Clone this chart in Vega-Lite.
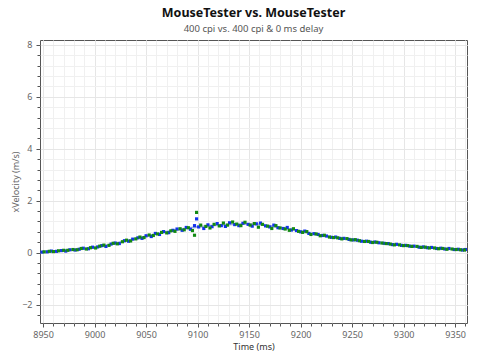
{
  "$schema": "https://vega.github.io/schema/vega-lite/v6.json",
  "width": 427,
  "height": 283,
  "autosize": {"type": "none"},
  "padding": {"left": 40, "top": 40, "right": 13, "bottom": 37},
  "background": "white",
  "title": {
    "text": "MouseTester vs. MouseTester",
    "subtitle": "400 cpi vs. 400 cpi & 0 ms delay",
    "fontSize": 12.5,
    "fontWeight": "bold",
    "color": "#111",
    "subtitleFontSize": 9.5,
    "subtitleColor": "#555",
    "subtitlePadding": 4,
    "anchor": "middle",
    "offset": 7
  },
  "config": {
    "font": "Noto Sans",
    "view": {"stroke": "#555", "strokeWidth": 1}
  },
  "datasets": {
    "mean": [
      {"time": 8950, "velocity": 0.03}, {"time": 8960, "velocity": 0.05}, {"time": 8970, "velocity": 0.08},
      {"time": 8980, "velocity": 0.11}, {"time": 8990, "velocity": 0.15}, {"time": 9000, "velocity": 0.19},
      {"time": 9010, "velocity": 0.27}, {"time": 9020, "velocity": 0.36}, {"time": 9030, "velocity": 0.45},
      {"time": 9040, "velocity": 0.54}, {"time": 9050, "velocity": 0.63}, {"time": 9060, "velocity": 0.72},
      {"time": 9070, "velocity": 0.81}, {"time": 9080, "velocity": 0.88}, {"time": 9090, "velocity": 0.94},
      {"time": 9100, "velocity": 0.99}, {"time": 9110, "velocity": 1.03}, {"time": 9120, "velocity": 1.06},
      {"time": 9130, "velocity": 1.08}, {"time": 9140, "velocity": 1.1}, {"time": 9150, "velocity": 1.1},
      {"time": 9160, "velocity": 1.08}, {"time": 9170, "velocity": 1.03}, {"time": 9180, "velocity": 0.97},
      {"time": 9190, "velocity": 0.9}, {"time": 9200, "velocity": 0.82}, {"time": 9210, "velocity": 0.75},
      {"time": 9220, "velocity": 0.67}, {"time": 9230, "velocity": 0.6}, {"time": 9240, "velocity": 0.55},
      {"time": 9250, "velocity": 0.5}, {"time": 9260, "velocity": 0.45}, {"time": 9270, "velocity": 0.41},
      {"time": 9280, "velocity": 0.37}, {"time": 9290, "velocity": 0.32}, {"time": 9300, "velocity": 0.28},
      {"time": 9310, "velocity": 0.24}, {"time": 9320, "velocity": 0.21}, {"time": 9330, "velocity": 0.18},
      {"time": 9340, "velocity": 0.15}, {"time": 9350, "velocity": 0.13}, {"time": 9360, "velocity": 0.11}
    ],
    "points": [
      {"time": 8949, "velocity": 0.02, "series": "A"}, {"time": 8954, "velocity": 0.03, "series": "A"},
      {"time": 8958, "velocity": 0.06, "series": "A"}, {"time": 8963, "velocity": 0.05, "series": "A"},
      {"time": 8968, "velocity": 0.08, "series": "A"}, {"time": 8972, "velocity": 0.06, "series": "A"},
      {"time": 8976, "velocity": 0.11, "series": "A"}, {"time": 8981, "velocity": 0.1, "series": "A"},
      {"time": 8985, "velocity": 0.13, "series": "A"}, {"time": 8989, "velocity": 0.17, "series": "A"},
      {"time": 8994, "velocity": 0.15, "series": "A"}, {"time": 8998, "velocity": 0.21, "series": "A"},
      {"time": 9003, "velocity": 0.22, "series": "A"}, {"time": 9007, "velocity": 0.27, "series": "A"},
      {"time": 9011, "velocity": 0.24, "series": "A"}, {"time": 9016, "velocity": 0.33, "series": "A"},
      {"time": 9020, "velocity": 0.37, "series": "A"}, {"time": 9024, "velocity": 0.35, "series": "A"},
      {"time": 9029, "velocity": 0.46, "series": "A"}, {"time": 9033, "velocity": 0.44, "series": "A"},
      {"time": 9037, "velocity": 0.52, "series": "A"}, {"time": 9042, "velocity": 0.57, "series": "A"},
      {"time": 9046, "velocity": 0.55, "series": "A"}, {"time": 9050, "velocity": 0.65, "series": "A"},
      {"time": 9055, "velocity": 0.62, "series": "A"}, {"time": 9059, "velocity": 0.74, "series": "A"},
      {"time": 9063, "velocity": 0.7, "series": "A"}, {"time": 9067, "velocity": 0.81, "series": "A"},
      {"time": 9072, "velocity": 0.77, "series": "A"}, {"time": 9076, "velocity": 0.86, "series": "A"},
      {"time": 9080, "velocity": 0.91, "series": "A"}, {"time": 9085, "velocity": 0.86, "series": "A"},
      {"time": 9089, "velocity": 0.97, "series": "A"}, {"time": 9093, "velocity": 0.9, "series": "A"},
      {"time": 9097, "velocity": 1.04, "series": "A"}, {"time": 9099, "velocity": 1.3, "series": "A"},
      {"time": 9101, "velocity": 0.99, "series": "A"}, {"time": 9106, "velocity": 0.93, "series": "A"},
      {"time": 9110, "velocity": 1.07, "series": "A"}, {"time": 9114, "velocity": 1.0, "series": "A"},
      {"time": 9119, "velocity": 1.12, "series": "A"}, {"time": 9123, "velocity": 1.04, "series": "A"},
      {"time": 9127, "velocity": 1.01, "series": "A"}, {"time": 9131, "velocity": 1.15, "series": "A"},
      {"time": 9136, "velocity": 1.08, "series": "A"}, {"time": 9140, "velocity": 1.04, "series": "A"},
      {"time": 9144, "velocity": 1.13, "series": "A"}, {"time": 9149, "velocity": 1.09, "series": "A"},
      {"time": 9153, "velocity": 1.02, "series": "A"}, {"time": 9157, "velocity": 1.11, "series": "A"},
      {"time": 9161, "velocity": 1.14, "series": "A"}, {"time": 9166, "velocity": 1.03, "series": "A"},
      {"time": 9170, "velocity": 0.99, "series": "A"}, {"time": 9174, "velocity": 1.06, "series": "A"},
      {"time": 9178, "velocity": 0.96, "series": "A"}, {"time": 9183, "velocity": 0.93, "series": "A"},
      {"time": 9187, "velocity": 0.97, "series": "A"}, {"time": 9191, "velocity": 0.87, "series": "A"},
      {"time": 9196, "velocity": 0.85, "series": "A"}, {"time": 9200, "velocity": 0.8, "series": "A"},
      {"time": 9204, "velocity": 0.83, "series": "A"}, {"time": 9208, "velocity": 0.74, "series": "A"},
      {"time": 9213, "velocity": 0.73, "series": "A"}, {"time": 9217, "velocity": 0.7, "series": "A"},
      {"time": 9221, "velocity": 0.66, "series": "A"}, {"time": 9225, "velocity": 0.64, "series": "A"},
      {"time": 9230, "velocity": 0.59, "series": "A"}, {"time": 9234, "velocity": 0.6, "series": "A"},
      {"time": 9238, "velocity": 0.55, "series": "A"}, {"time": 9242, "velocity": 0.55, "series": "A"},
      {"time": 9247, "velocity": 0.51, "series": "A"}, {"time": 9251, "velocity": 0.49, "series": "A"},
      {"time": 9255, "velocity": 0.48, "series": "A"}, {"time": 9259, "velocity": 0.44, "series": "A"},
      {"time": 9264, "velocity": 0.44, "series": "A"}, {"time": 9268, "velocity": 0.4, "series": "A"},
      {"time": 9272, "velocity": 0.41, "series": "A"}, {"time": 9276, "velocity": 0.38, "series": "A"},
      {"time": 9281, "velocity": 0.36, "series": "A"}, {"time": 9285, "velocity": 0.35, "series": "A"},
      {"time": 9289, "velocity": 0.31, "series": "A"}, {"time": 9293, "velocity": 0.32, "series": "A"},
      {"time": 9298, "velocity": 0.28, "series": "A"}, {"time": 9302, "velocity": 0.28, "series": "A"},
      {"time": 9306, "velocity": 0.25, "series": "A"}, {"time": 9310, "velocity": 0.25, "series": "A"},
      {"time": 9315, "velocity": 0.21, "series": "A"}, {"time": 9319, "velocity": 0.22, "series": "A"},
      {"time": 9323, "velocity": 0.19, "series": "A"}, {"time": 9327, "velocity": 0.2, "series": "A"},
      {"time": 9332, "velocity": 0.16, "series": "A"}, {"time": 9336, "velocity": 0.17, "series": "A"},
      {"time": 9340, "velocity": 0.14, "series": "A"}, {"time": 9344, "velocity": 0.16, "series": "A"},
      {"time": 9349, "velocity": 0.12, "series": "A"}, {"time": 9353, "velocity": 0.13, "series": "A"},
      {"time": 9357, "velocity": 0.1, "series": "A"}, {"time": 9360, "velocity": 0.12, "series": "A"},
      {"time": 8951, "velocity": 0.03, "series": "B"}, {"time": 8956, "velocity": 0.05, "series": "B"},
      {"time": 8960, "velocity": 0.04, "series": "B"}, {"time": 8965, "velocity": 0.07, "series": "B"},
      {"time": 8970, "velocity": 0.09, "series": "B"}, {"time": 8974, "velocity": 0.09, "series": "B"},
      {"time": 8979, "velocity": 0.12, "series": "B"}, {"time": 8983, "velocity": 0.11, "series": "B"},
      {"time": 8987, "velocity": 0.16, "series": "B"}, {"time": 8992, "velocity": 0.14, "series": "B"},
      {"time": 8996, "velocity": 0.19, "series": "B"}, {"time": 9001, "velocity": 0.18, "series": "B"},
      {"time": 9005, "velocity": 0.25, "series": "B"}, {"time": 9009, "velocity": 0.29, "series": "B"},
      {"time": 9014, "velocity": 0.28, "series": "B"}, {"time": 9018, "velocity": 0.36, "series": "B"},
      {"time": 9022, "velocity": 0.34, "series": "B"}, {"time": 9027, "velocity": 0.42, "series": "B"},
      {"time": 9031, "velocity": 0.48, "series": "B"}, {"time": 9035, "velocity": 0.45, "series": "B"},
      {"time": 9040, "velocity": 0.53, "series": "B"}, {"time": 9044, "velocity": 0.6, "series": "B"},
      {"time": 9048, "velocity": 0.58, "series": "B"}, {"time": 9053, "velocity": 0.68, "series": "B"},
      {"time": 9057, "velocity": 0.66, "series": "B"}, {"time": 9061, "velocity": 0.72, "series": "B"},
      {"time": 9065, "velocity": 0.78, "series": "B"}, {"time": 9070, "velocity": 0.76, "series": "B"},
      {"time": 9074, "velocity": 0.84, "series": "B"}, {"time": 9078, "velocity": 0.82, "series": "B"},
      {"time": 9083, "velocity": 0.92, "series": "B"}, {"time": 9087, "velocity": 0.88, "series": "B"},
      {"time": 9091, "velocity": 0.96, "series": "B"}, {"time": 9095, "velocity": 0.85, "series": "B"},
      {"time": 9097, "velocity": 0.67, "series": "B"}, {"time": 9099, "velocity": 1.55, "series": "B"},
      {"time": 9103, "velocity": 1.06, "series": "B"}, {"time": 9108, "velocity": 1.01, "series": "B"},
      {"time": 9112, "velocity": 0.95, "series": "B"}, {"time": 9116, "velocity": 1.09, "series": "B"},
      {"time": 9121, "velocity": 1.03, "series": "B"}, {"time": 9125, "velocity": 1.14, "series": "B"},
      {"time": 9129, "velocity": 1.06, "series": "B"}, {"time": 9134, "velocity": 1.18, "series": "B"},
      {"time": 9138, "velocity": 1.1, "series": "B"}, {"time": 9142, "velocity": 1.04, "series": "B"},
      {"time": 9146, "velocity": 1.17, "series": "B"}, {"time": 9151, "velocity": 1.06, "series": "B"},
      {"time": 9155, "velocity": 1.12, "series": "B"}, {"time": 9159, "velocity": 0.98, "series": "B"},
      {"time": 9163, "velocity": 1.09, "series": "B"}, {"time": 9168, "velocity": 1.02, "series": "B"},
      {"time": 9172, "velocity": 0.93, "series": "B"}, {"time": 9176, "velocity": 1.04, "series": "B"},
      {"time": 9180, "velocity": 0.95, "series": "B"}, {"time": 9185, "velocity": 0.91, "series": "B"},
      {"time": 9189, "velocity": 0.86, "series": "B"}, {"time": 9193, "velocity": 0.92, "series": "B"},
      {"time": 9198, "velocity": 0.82, "series": "B"}, {"time": 9202, "velocity": 0.78, "series": "B"},
      {"time": 9206, "velocity": 0.81, "series": "B"}, {"time": 9210, "velocity": 0.7, "series": "B"},
      {"time": 9215, "velocity": 0.72, "series": "B"}, {"time": 9219, "velocity": 0.65, "series": "B"},
      {"time": 9223, "velocity": 0.67, "series": "B"}, {"time": 9228, "velocity": 0.6, "series": "B"},
      {"time": 9232, "velocity": 0.58, "series": "B"}, {"time": 9236, "velocity": 0.57, "series": "B"},
      {"time": 9240, "velocity": 0.53, "series": "B"}, {"time": 9245, "velocity": 0.54, "series": "B"},
      {"time": 9249, "velocity": 0.49, "series": "B"}, {"time": 9253, "velocity": 0.5, "series": "B"},
      {"time": 9257, "velocity": 0.46, "series": "B"}, {"time": 9262, "velocity": 0.43, "series": "B"},
      {"time": 9266, "velocity": 0.43, "series": "B"}, {"time": 9270, "velocity": 0.39, "series": "B"},
      {"time": 9274, "velocity": 0.4, "series": "B"}, {"time": 9279, "velocity": 0.37, "series": "B"},
      {"time": 9283, "velocity": 0.35, "series": "B"}, {"time": 9287, "velocity": 0.33, "series": "B"},
      {"time": 9291, "velocity": 0.3, "series": "B"}, {"time": 9296, "velocity": 0.3, "series": "B"},
      {"time": 9300, "velocity": 0.27, "series": "B"}, {"time": 9304, "velocity": 0.27, "series": "B"},
      {"time": 9308, "velocity": 0.24, "series": "B"}, {"time": 9313, "velocity": 0.24, "series": "B"},
      {"time": 9317, "velocity": 0.2, "series": "B"}, {"time": 9321, "velocity": 0.21, "series": "B"},
      {"time": 9325, "velocity": 0.18, "series": "B"}, {"time": 9330, "velocity": 0.18, "series": "B"},
      {"time": 9334, "velocity": 0.15, "series": "B"}, {"time": 9338, "velocity": 0.16, "series": "B"},
      {"time": 9342, "velocity": 0.13, "series": "B"}, {"time": 9347, "velocity": 0.14, "series": "B"},
      {"time": 9351, "velocity": 0.12, "series": "B"}, {"time": 9355, "velocity": 0.11, "series": "B"},
      {"time": 9359, "velocity": 0.1, "series": "B"}
    ]
  },
  "resolve": {"axis": {"x": "independent", "y": "independent"}},
  "layer": [
    {
      "data": {"name": "mean"},
      "mark": {"type": "line", "color": "#a3b4d6", "strokeWidth": 2, "clip": true},
      "encoding": {
        "x": {
          "field": "time", "type": "quantitative",
          "scale": {"domain": [8947, 9361.5], "nice": false, "zero": false},
          "axis": {
            "orient": "bottom", "title": null, "labels": false, "domain": false,
            "values": [8950,8960,8970,8980,8990,9000,9010,9020,9030,9040,9050,9060,9070,9080,9090,9100,9110,9120,9130,9140,9150,9160,9170,9180,9190,9200,9210,9220,9230,9240,9250,9260,9270,9280,9290,9300,9310,9320,9330,9340,9350,9360],
            "grid": true, "gridColor": "#f0f0f0", "gridWidth": 1,
            "ticks": true, "tickSize": 3, "tickColor": "#555"
          }
        },
        "y": {
          "field": "velocity", "type": "quantitative",
          "scale": {"domain": [-2.71, 8.19], "nice": false, "zero": false},
          "axis": {
            "orient": "left", "title": null, "labels": false, "domain": false,
            "values": [-2.4,-2,-1.6,-1.2,-0.8,-0.4,0,0.4,0.8,1.2,1.6,2,2.4,2.8,3.2,3.6,4,4.4,4.8,5.2,5.6,6,6.4,6.8,7.2,7.6,8],
            "grid": true, "gridColor": "#f0f0f0", "gridWidth": 1,
            "ticks": true, "tickSize": 3, "tickColor": "#555"
          }
        }
      }
    },
    {
      "data": {"name": "points"},
      "mark": {"type": "point", "shape": "square", "filled": true, "size": 10, "opacity": 1, "clip": true},
      "encoding": {
        "x": {
          "field": "time", "type": "quantitative",
          "axis": {
            "orient": "bottom", "title": "Time (ms)", "domain": false, "format": "d",
            "values": [8950,9000,9050,9100,9150,9200,9250,9300,9350],
            "grid": true, "gridColor": "#e6e6e6",
            "ticks": true, "tickSize": 4, "tickColor": "#555",
            "labelFontSize": 9, "labelColor": "#666", "labelPadding": 3,
            "titleFontSize": 9, "titleFontWeight": "normal", "titleColor": "#333", "titlePadding": 3
          }
        },
        "y": {
          "field": "velocity", "type": "quantitative",
          "axis": {
            "orient": "left", "title": "xVelocity (m/s)", "domain": false,
            "values": [-2,0,2,4,6,8],
            "grid": true, "gridColor": "#e6e6e6",
            "ticks": true, "tickSize": 4, "tickColor": "#555",
            "labelFontSize": 9, "labelColor": "#666", "labelPadding": 4,
            "titleFontSize": 9, "titleFontWeight": "normal", "titleColor": "#666", "titlePadding": 1
          }
        },
        "color": {
          "field": "series", "type": "nominal",
          "scale": {"domain": ["A", "B"], "range": ["#1432ee", "#138a13"]},
          "legend": null
        }
      }
    }
  ]
}
